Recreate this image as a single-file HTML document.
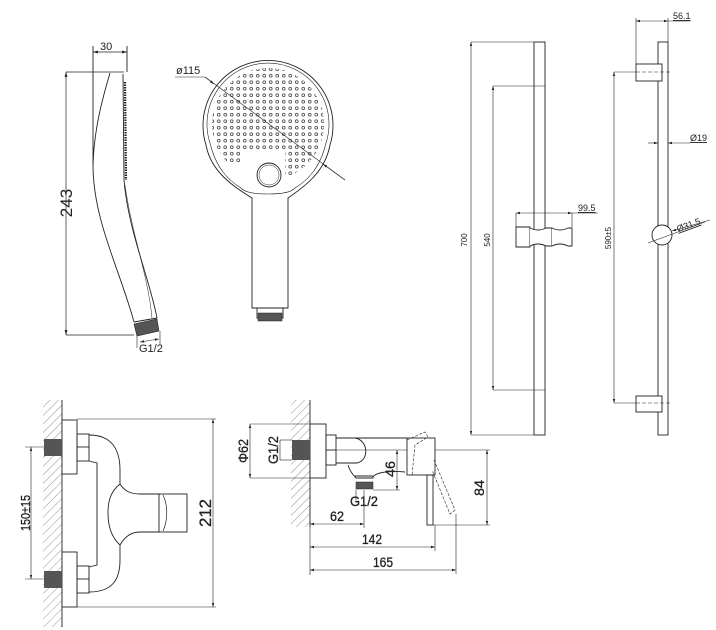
<!DOCTYPE html>
<html><head><meta charset="utf-8"><style>
html,body{margin:0;padding:0;background:#fff;}
svg{display:block;}
text{font-family:"Liberation Sans",sans-serif;fill:#222;}
</style></head><body>
<svg width="716" height="630" viewBox="0 0 716 630" xmlns="http://www.w3.org/2000/svg">
<defs>
<pattern id="hatch" width="6" height="6" patternUnits="userSpaceOnUse" patternTransform="rotate(45)">
<line x1="0" y1="0" x2="0" y2="6" stroke="#666" stroke-width="0.7"/></pattern>
<pattern id="dots" width="6.5" height="6.5" patternUnits="userSpaceOnUse" x="1" y="1">
<circle cx="3.2" cy="3.2" r="1.4" fill="none" stroke="#555" stroke-width="0.9"/></pattern>
<mask id="dm"><circle cx="268" cy="124" r="56" fill="#fff"/>
<rect x="240" y="152" width="45" height="45" fill="#000"/><rect x="230" y="165" width="14" height="30" fill="#000"/></mask>
<marker id="ar" viewBox="0 0 10 10" refX="10" refY="5" markerWidth="7" markerHeight="7" orient="auto-start-reverse"><path d="M0,2 L10,5 L0,8 Z" fill="#222"/></marker>
</defs>
<g fill="none" stroke="#222" stroke-width="0.9">

<!-- hand shower side -->
<line x1="93" y1="46" x2="93" y2="165"/>
<line x1="127" y1="46" x2="127" y2="72"/>
<line x1="93" y1="52" x2="127" y2="52" marker-start="url(#ar)" marker-end="url(#ar)" stroke-width="0.7"/>
<line x1="66" y1="72" x2="124" y2="72" stroke-width="0.7"/>
<line x1="66" y1="335" x2="134" y2="335" stroke-width="0.7"/>
<line x1="66" y1="72" x2="66" y2="335" marker-start="url(#ar)" marker-end="url(#ar)" stroke-width="0.7"/>
<path d="M110,73 C102,100 94,130 93,165 C93,220 120,270 134,322"/>
<path d="M123,74 L124,180 C128,230 150,280 157,318"/>
<path d="M125,185 C132,235 148,275 152,318" stroke-width="0.5"/>
<line x1="125" y1="82" x2="126" y2="180" stroke-dasharray="1.5,1" stroke-width="2.2"/>
<line x1="134" y1="322" x2="157" y2="318"/>
<path d="M134,324 L157,319 L159,331 L137,336 Z" fill="#555" stroke-width="0.6"/>
<line x1="137" y1="336" x2="137" y2="348" stroke-width="0.6"/>
<line x1="160" y1="331" x2="160" y2="345" stroke-width="0.6"/>
<line x1="140" y1="342" x2="159" y2="339" stroke-width="0.6" marker-start="url(#ar)" marker-end="url(#ar)"/>

<!-- hand shower front -->
<path d="M206,145 A65,65 0 1 1 330,145 C325,172 305,186 288,198 L288,308 L252,308 L252,198 C233,186 211,172 206,145 Z"/>
<path d="M210,143 A61,61 0 1 1 326,143 C320,168 308,180 295,188 Q290,194 268,194 Q246,194 241,188 C228,180 216,168 210,143 Z" stroke-width="0.6"/>
<rect x="203" y="60" width="130" height="135" fill="url(#dots)" stroke="none" mask="url(#dm)"/>
<circle cx="269" cy="175" r="12"/>
<circle cx="269" cy="175" r="10" stroke-width="0.5"/>
<path d="M257,308 L257,318 L283,318 L283,308" />
<rect x="258" y="313" width="24" height="8" fill="#555" stroke-width="0.5"/>
<line x1="175" y1="77" x2="205" y2="77" stroke-width="0.6"/>
<line x1="205" y1="77" x2="345" y2="180" stroke-width="0.6"/>
<line x1="205" y1="77" x2="214" y2="84" marker-end="url(#ar)" stroke-width="0.6"/>
<line x1="345" y1="180" x2="323" y2="164" marker-end="url(#ar)" stroke-width="0.6"/>

<!-- rail 1 -->
<rect x="534" y="42" width="11" height="393"/>
<line x1="471" y1="42" x2="534" y2="42" stroke-width="0.6"/>
<line x1="471" y1="435" x2="534" y2="435" stroke-width="0.6"/>
<line x1="471" y1="42" x2="471" y2="435" marker-start="url(#ar)" marker-end="url(#ar)" stroke-width="0.6"/>
<line x1="493" y1="86" x2="545" y2="86" stroke-width="0.6"/>
<line x1="493" y1="390" x2="545" y2="390" stroke-width="0.6"/>
<line x1="493" y1="86" x2="493" y2="390" marker-start="url(#ar)" marker-end="url(#ar)" stroke-width="0.6"/>
<path d="M516,227 L530,227 L530,247 L516,247 Z" fill="#fff"/>
<path d="M530,228 Q538,232 546,228 L552,228 L552,246 L546,246 Q538,242 530,246" fill="#fff"/>
<path d="M552,228 Q560,232 568,228 L572,228 L572,246 L568,246 Q560,242 552,246" fill="#fff"/>
<line x1="516" y1="213" x2="572" y2="213" marker-start="url(#ar)" marker-end="url(#ar)" stroke-width="0.6"/>
<line x1="516" y1="213" x2="516" y2="227" stroke-width="0.6"/>
<line x1="572" y1="213" x2="572" y2="227" stroke-width="0.6"/>
<line x1="572" y1="213" x2="598" y2="213" stroke-width="0.6"/>

<!-- rail 2 -->
<rect x="658" y="42" width="10" height="393"/>
<rect x="636" y="64" width="26" height="17" fill="#fff"/>
<rect x="636" y="396" width="26" height="16" fill="#fff"/>
<line x1="614" y1="72" x2="636" y2="72" stroke-width="0.5"/>
<line x1="636" y1="72" x2="672" y2="72" stroke-width="0.5" stroke-dasharray="4,2"/>
<line x1="614" y1="403" x2="636" y2="403" stroke-width="0.5"/>
<line x1="636" y1="403" x2="672" y2="403" stroke-width="0.5" stroke-dasharray="4,2"/>
<line x1="614" y1="72" x2="614" y2="403" marker-start="url(#ar)" marker-end="url(#ar)" stroke-width="0.6"/>
<line x1="636" y1="18" x2="636" y2="64" stroke-width="0.6"/>
<line x1="668" y1="18" x2="668" y2="42" stroke-width="0.6"/>
<line x1="636" y1="21" x2="668" y2="21" marker-start="url(#ar)" marker-end="url(#ar)" stroke-width="0.6"/>
<line x1="668" y1="21" x2="690" y2="21" stroke-width="0.6"/>
<line x1="648" y1="143" x2="658" y2="143" marker-end="url(#ar)" stroke-width="0.6"/>
<line x1="690" y1="143" x2="668" y2="143" marker-end="url(#ar)" stroke-width="0.6"/>
<circle cx="662" cy="235" r="10" fill="#fff"/>
<line x1="648" y1="243" x2="705" y2="222" stroke-width="0.6"/>
<line x1="710" y1="220" x2="672" y2="231" marker-end="url(#ar)" stroke-width="0.6"/>

<!-- mixer front -->
<rect x="43" y="400" width="19" height="227" fill="url(#hatch)" stroke="none"/>
<line x1="62" y1="400" x2="62" y2="627"/>
<rect x="62" y="420" width="15" height="54" fill="#fff"/>
<rect x="62" y="552" width="15" height="55" fill="#fff"/>
<rect x="44" y="439" width="18" height="17" fill="#555" stroke="none"/>
<rect x="44" y="571" width="18" height="17" fill="#555" stroke="none"/>
<rect x="77" y="434" width="12" height="27"/><line x1="77" y1="447" x2="89" y2="447"/>
<rect x="77" y="566" width="12" height="27"/><line x1="77" y1="579" x2="89" y2="579"/>
<path d="M89,435 C112,435 120,450 120,470 L120,484 C125,492 132,494 140,494 L159,494"/>
<path d="M159,532 L140,532 C132,532 125,536 120,545 L120,560 C120,580 112,592 89,592"/>
<path d="M120,484 C110,492 108,502 108,513 C108,524 110,536 120,545"/>
<path d="M89,461 L97,463 L97,565 L89,567"/>
<rect x="159" y="494" width="28" height="38"/>
<path d="M163,495 C168,505 168,520 163,531" stroke-width="0.7"/>
<line x1="77" y1="419" x2="216" y2="419" stroke-width="0.6"/>
<line x1="77" y1="607" x2="216" y2="607" stroke-width="0.6"/>
<line x1="213" y1="419" x2="213" y2="607" marker-start="url(#ar)" marker-end="url(#ar)" stroke-width="0.6"/>
<line x1="25" y1="447" x2="44" y2="447" stroke-width="0.6"/>
<line x1="25" y1="579" x2="44" y2="579" stroke-width="0.6"/>
<line x1="31" y1="447" x2="31" y2="579" marker-start="url(#ar)" marker-end="url(#ar)" stroke-width="0.6"/>

<!-- mixer side -->
<rect x="291" y="400" width="19" height="127" fill="url(#hatch)" stroke="none"/>
<line x1="310" y1="400" x2="310" y2="527"/>
<rect x="310" y="424" width="16" height="54" fill="#fff"/>
<line x1="280" y1="440" x2="292" y2="440" stroke-width="0.6"/>
<line x1="280" y1="460" x2="292" y2="460" stroke-width="0.6"/>
<rect x="292" y="440" width="18" height="20" fill="#555" stroke="none"/>
<rect x="326" y="435" width="10" height="30"/><line x1="326" y1="450" x2="336" y2="450"/>
<line x1="336" y1="438" x2="407" y2="438"/>
<line x1="336" y1="450" x2="490" y2="450" stroke-width="0.6"/>
<path d="M355,438 C368,440 370,460 357,463 L336,463"/>
<path d="M348,465 C350,472 354,476 356,478 L373,478 C372,474 385,470 405,472"/>
<line x1="355" y1="476" x2="373" y2="476"/>
<rect x="356" y="482" width="17" height="7" fill="#555" stroke-width="0.5"/>
<rect x="407" y="438" width="28" height="37" fill="#fff"/>
<path d="M407,440 L425,432 L428,437 L415,445 L412,475" stroke-width="0.6" stroke-dasharray="3,1.5"/>
<rect x="427" y="475" width="6" height="50"/>
<path d="M434,460 L455,510 L450,514 L432,470" stroke-width="0.6" stroke-dasharray="3,1.5"/>
<line x1="250" y1="424" x2="310" y2="424" stroke-width="0.6"/>
<line x1="250" y1="478" x2="310" y2="478" stroke-width="0.6"/>
<line x1="250" y1="424" x2="250" y2="478" marker-start="url(#ar)" marker-end="url(#ar)" stroke-width="0.6"/>
<line x1="280" y1="440" x2="280" y2="460" stroke-width="0.6"/>
<line x1="373" y1="490" x2="400" y2="490" stroke-width="0.6"/>
<line x1="397" y1="450" x2="397" y2="490" marker-start="url(#ar)" marker-end="url(#ar)" stroke-width="0.6"/>
<line x1="433" y1="525" x2="490" y2="525" stroke-width="0.6"/>
<line x1="487" y1="450" x2="487" y2="525" marker-start="url(#ar)" marker-end="url(#ar)" stroke-width="0.6"/>
<line x1="310" y1="527" x2="310" y2="575" stroke-width="0.6"/>
<line x1="364" y1="490" x2="364" y2="528" stroke-width="0.6"/>
<line x1="356" y1="490" x2="356" y2="500" stroke-width="0.6"/>
<line x1="435" y1="525" x2="435" y2="551" stroke-width="0.6"/>
<line x1="456" y1="514" x2="456" y2="574" stroke-width="0.6"/>
<line x1="310" y1="524" x2="364" y2="524" marker-start="url(#ar)" marker-end="url(#ar)" stroke-width="0.6"/>
<line x1="310" y1="547" x2="435" y2="547" marker-start="url(#ar)" marker-end="url(#ar)" stroke-width="0.6"/>
<line x1="310" y1="570" x2="456" y2="570" marker-start="url(#ar)" marker-end="url(#ar)" stroke-width="0.6"/>
</g>

<!-- labels -->
<text x="100" y="50" font-size="11">30</text>
<text transform="translate(72,203) rotate(-90)" font-size="17" text-anchor="middle">243</text>
<text x="139" y="352" font-size="11">G1/2</text>
<text x="176" y="74" font-size="11">ø115</text>
<text transform="translate(467,240) rotate(-90)" font-size="8" text-anchor="middle">700</text>
<text transform="translate(490,240) rotate(-90)" font-size="8" text-anchor="middle">540</text>
<text x="578" y="211" font-size="9" text-decoration="underline">99.5</text>
<text transform="translate(611,238) rotate(-90)" font-size="8" text-anchor="middle">590±5</text>
<text x="673" y="19" font-size="9" text-decoration="underline">56.1</text>
<text x="690" y="141" font-size="9" text-decoration="underline">Ø19</text>
<text transform="translate(678,232) rotate(-20)" font-size="9" text-decoration="underline">Ø31.5</text>
<g font-size="15" stroke="#222" stroke-width="0.3">
<text transform="translate(211,513) rotate(-90)" text-anchor="middle" textLength="28" lengthAdjust="spacingAndGlyphs" font-size="17">212</text>
<text transform="translate(30,513) rotate(-90)" text-anchor="middle" textLength="36" lengthAdjust="spacingAndGlyphs" font-size="13">150±15</text>
<text transform="translate(248,451) rotate(-90)" text-anchor="middle" textLength="24" lengthAdjust="spacingAndGlyphs" font-size="14">Φ62</text>
<text transform="translate(278,450) rotate(-90)" text-anchor="middle" textLength="28" lengthAdjust="spacingAndGlyphs" font-size="14">G1/2</text>
<text transform="translate(395,469) rotate(-90)" text-anchor="middle" textLength="16" lengthAdjust="spacingAndGlyphs" font-size="14">46</text>
<text transform="translate(484,488) rotate(-90)" text-anchor="middle" textLength="16" lengthAdjust="spacingAndGlyphs" font-size="14">84</text>
<text x="364" y="506" text-anchor="middle" textLength="28" lengthAdjust="spacingAndGlyphs" font-size="14">G1/2</text>
<text x="337" y="521" text-anchor="middle" textLength="14" lengthAdjust="spacingAndGlyphs" font-size="14">62</text>
<text x="372" y="544" text-anchor="middle" textLength="20" lengthAdjust="spacingAndGlyphs" font-size="14">142</text>
<text x="383" y="567" text-anchor="middle" textLength="20" lengthAdjust="spacingAndGlyphs" font-size="14">165</text>
</g>
</svg>
</body></html>
